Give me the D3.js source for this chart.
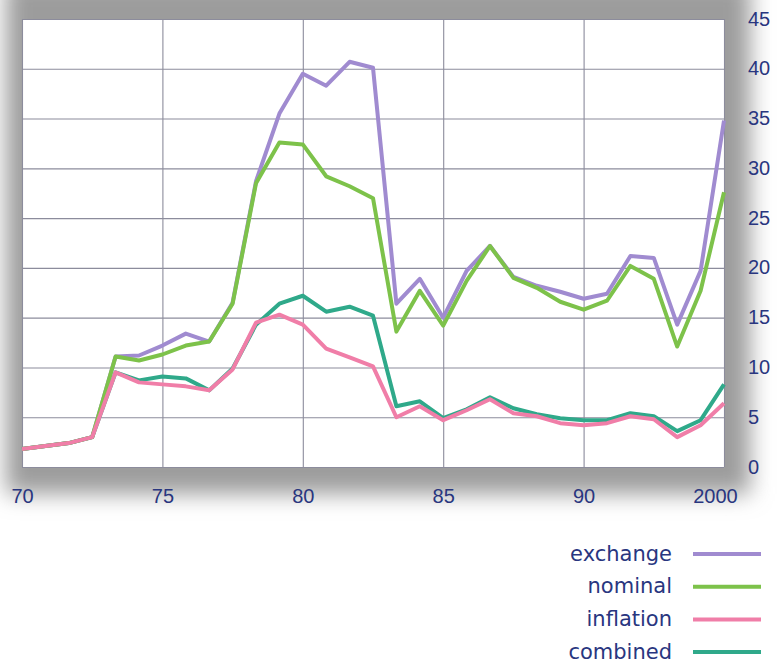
<!DOCTYPE html>
<html>
<head>
<meta charset="utf-8">
<script src="https://cdn.jsdelivr.net/npm/d3@7"></script>
<style>
  html, body { margin: 0; padding: 0; background: #ffffff; }
  svg { display: block; }
</style>
</head>
<body>
<script>
// ---- data ----
const periods = [0,1,2,3,4,5,6,7,8,9,10,11,12,13,14,15,16,17,18,19,20,21,22,23,24,25,26,27,28,29,30];
const xTickPositions = [0, 6, 12, 18, 24, 30];
const xTickLabels = ["70", "75", "80", "85", "90", "2000"];
const yTicks = [0, 5, 10, 15, 20, 25, 30, 35, 40, 45];

const exchange = [1.8,2.1,2.4,3.0,11.1,11.2,12.2,13.4,12.6,16.5,28.7,35.5,39.5,38.3,40.7,40.1,16.4,18.9,15.0,19.7,22.2,19.1,18.2,17.6,16.9,17.4,21.2,21.0,14.3,19.7,34.8];
const nominal  = [1.8,2.1,2.4,3.0,11.1,10.7,11.3,12.2,12.6,16.4,28.5,32.6,32.4,29.2,28.2,27.0,13.6,17.7,14.2,18.7,22.2,19.0,18.0,16.6,15.8,16.7,20.2,18.9,12.1,17.7,27.6];
const inflation= [1.8,2.1,2.4,3.0,9.5,8.5,8.3,8.1,7.7,9.8,14.5,15.3,14.3,11.9,11.0,10.1,5.0,6.1,4.7,5.7,6.8,5.4,5.1,4.4,4.2,4.4,5.1,4.8,3.0,4.2,6.4];
const combined = [1.8,2.1,2.4,3.0,9.5,8.7,9.1,8.9,7.7,9.9,14.3,16.4,17.2,15.6,16.1,15.2,6.1,6.6,4.9,5.8,7.0,5.9,5.3,4.9,4.7,4.7,5.4,5.1,3.6,4.7,8.3];

const seriesNames = ["exchange", "nominal", "inflation", "combined"];
const seriesValues = [exchange, nominal, inflation, combined];
const seriesColors = ["#a08bd0", "#7dc24a", "#f07ea8", "#2fa98a"];
const drawOrder = [0, 3, 1, 2];

// ---- layout ----
const W = 777, H = 666;
const x = d3.scaleLinear().domain([0, 30]).range([22, 724]);
const y = d3.scaleLinear().domain([0, 45]).range([467, 19]);

const svg = d3.select("body").append("svg").attr("width", W).attr("height", H);
const defs = svg.append("defs");
const f = defs.append("filter").attr("id", "shadow")
  .attr("x", "-20%").attr("y", "-20%").attr("width", "140%").attr("height", "140%");
f.append("feGaussianBlur").attr("stdDeviation", 11);

svg.append("rect").attr("width", W).attr("height", H).attr("fill", "#ffffff");

// shadow behind plot
svg.append("rect")
  .attr("x", 6).attr("y", -20).attr("width", 744).attr("height", 514)
  .attr("fill", "#9c9c9c").attr("filter", "url(#shadow)");

// plot background
svg.append("rect")
  .attr("x", x(0)).attr("y", y(45)).attr("width", x(30) - x(0)).attr("height", y(0) - y(45))
  .attr("fill", "#ffffff");

const gridColor = "#8c8c9c";
// horizontal grid
const yGrid = svg.append("g").attr("transform", `translate(${x(0)},0)`)
  .call(d3.axisRight(y).tickValues(yTicks).tickSize(x(30) - x(0)).tickFormat(""));
yGrid.select(".domain").remove();
yGrid.selectAll("line").attr("stroke", gridColor).attr("stroke-width", 1.1);

// vertical grid
const xGrid = svg.append("g").attr("transform", `translate(0,${y(45)})`)
  .call(d3.axisBottom(x).tickValues(xTickPositions).tickSize(y(0) - y(45)).tickFormat(""));
xGrid.select(".domain").remove();
xGrid.selectAll("line").attr("stroke", gridColor).attr("stroke-width", 1.1);

// lines
const line = d3.line().x((d, i) => x(periods[i])).y(d => y(d));
drawOrder.forEach(k => {
  svg.append("path")
    .datum(seriesValues[k])
    .attr("fill", "none")
    .attr("stroke", seriesColors[k])
    .attr("stroke-width", 4)
    .attr("stroke-linejoin", "round")
    .attr("d", line);
});

const labelColor = "#29367f";
const tickFont = "'Liberation Sans', Arial, sans-serif";

// x axis labels
const xAxis = svg.append("g").attr("transform", `translate(0,${y(0)})`)
  .call(d3.axisBottom(x).tickValues(xTickPositions).tickSize(0).tickPadding(22)
    .tickFormat((d, i) => xTickLabels[i]));
xAxis.select(".domain").remove();
xAxis.selectAll("text")
  .attr("fill", labelColor)
  .style("font-family", tickFont)
  .style("font-size", "20px")
  .attr("dx", (d, i) => i === xTickPositions.length - 1 ? -9 : 0);

// y axis labels (right)
const yAxis = svg.append("g").attr("transform", `translate(${x(30)},0)`)
  .call(d3.axisRight(y).tickValues(yTicks).tickSize(0).tickPadding(24));
yAxis.select(".domain").remove();
yAxis.selectAll("text")
  .attr("fill", labelColor)
  .style("font-family", tickFont)
  .style("font-size", "20px")
  .attr("dy", "0.3em");

// legend
const legend = svg.append("g");
seriesNames.forEach((name, i) => {
  const cy = 554 + i * 32.7;
  legend.append("text")
    .attr("x", 672).attr("y", cy).attr("dy", "0.32em")
    .attr("text-anchor", "end")
    .attr("fill", labelColor)
    .style("font-family", "'DejaVu Sans', Verdana, sans-serif")
    .style("font-size", "21px")
    .text(name);
  legend.append("line")
    .attr("x1", 693).attr("x2", 761).attr("y1", cy).attr("y2", cy)
    .attr("stroke", seriesColors[i]).attr("stroke-width", 4);
});
</script>
</body>
</html>
